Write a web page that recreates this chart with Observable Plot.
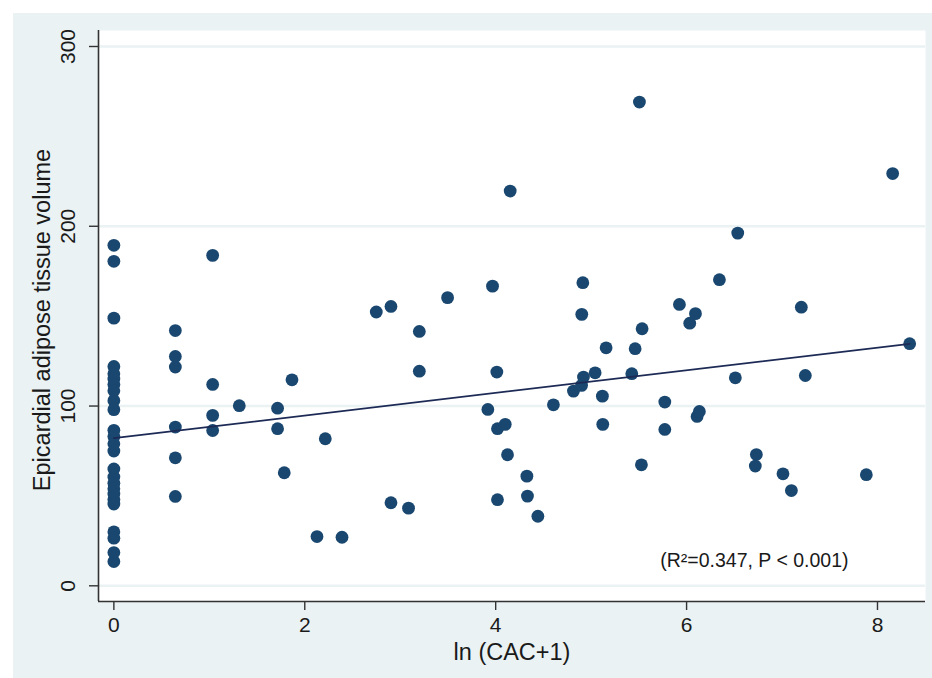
<!DOCTYPE html>
<html>
<head>
<meta charset="utf-8">
<script src="https://cdn.jsdelivr.net/npm/d3@7"></script>
<script src="https://cdn.jsdelivr.net/npm/@observablehq/plot@0.6"></script>
<style>
  html, body { margin: 0; padding: 0; background: #ffffff; }
  #wrap { position: relative; width: 932px; height: 678px; overflow: hidden; }
  #bg { position: absolute; left: 13px; top: 13px; right: 0; bottom: 0; background: #EAF2F3; }
  #chart { position: absolute; left: 0; top: 0; }
  #chart svg { background: transparent; }
</style>
</head>
<body>
<div id="wrap"><div id="bg"></div><div id="chart"></div></div>
<script>
// Data
const lnCAC = [
  0,0,0,0,0,0,0,0,0,0,0,0,0,0,0,0,0,0,0,0,0,0,0,0,0,
  0.644,0.644,0.644,0.644,0.644,0.644,
  1.035,1.035,1.035,1.035,
  1.314,1.715,1.715,1.785,1.866,
  2.128,2.215,2.39,2.749,2.903,2.903,3.087,3.2,3.2,3.496,
  3.918,3.967,4.012,4.019,4.019,4.1,4.124,4.152,4.327,4.333,4.442,
  4.605,4.815,4.9,4.92,4.913,4.902,5.042,5.118,5.122,5.157,
  5.426,5.461,5.506,5.527,5.534,5.772,5.772,5.925,6.033,6.093,6.11,6.134,
  6.344,6.511,6.536,6.72,6.731,7.01,7.098,7.202,7.244,7.883,8.159,8.337
];
const eatVolume = [
  189.4,180.5,148.9,122,118,115,112,108.5,103,98,86.5,83,79,75,65,60.5,57,54,51,48,45.5,30,26.5,18.5,13.5,
  142,127.6,121.7,88.3,71.2,49.7,
  183.8,112,94.8,86.4,
  100.2,98.8,87.4,62.9,114.6,
  27.4,81.8,27,152.3,155.4,46.2,43.2,141.5,119.4,160.3,
  98.1,166.7,118.9,87.4,47.9,89.8,72.9,219.6,61,49.9,38.7,
  100.7,108.3,111.5,116.1,168.6,151,118.5,105.5,89.8,132.4,
  118,131.9,269.1,67.3,143,102.2,87,156.5,146.1,151.4,94.2,97,
  170.3,115.7,196.2,66.6,73,62.3,53,155,117,61.8,229.3,134.7
];
const xTicks = [0, 2, 4, 6, 8];
const yTicks = [0, 100, 200, 300];
const fitIntercept = 82.1;
const fitSlope = 6.3;
const xTitle = "ln (CAC+1)";
const yTitle = "Epicardial adipose tissue volume";
const noteText = "(R\u00B2=0.347, P < 0.001)";

const points = lnCAC.map((x, i) => ({x, y: eatVolume[i]}));
const xMin = d3.min(lnCAC), xMax = d3.max(lnCAC);
const fit = [xMin, xMax].map(x => ({x, y: fitIntercept + fitSlope * x}));

const xDomain = [-0.161, 8.503];
const yDomain = [-8.73, 308.9];
const notePos = [{x: 6.71, y: 14.1}];

const FONT = "'Liberation Sans', Arial, Helvetica, sans-serif";
const TEXT = "#1a1a1a";
const AXIS = "#333333";

const chart = Plot.plot({
  width: 932,
  height: 678,
  marginLeft: 98,
  marginRight: 7,
  marginTop: 30,
  marginBottom: 77,
  style: {fontFamily: FONT, background: "transparent", color: TEXT},
  x: {domain: xDomain, axis: null, label: null},
  y: {domain: yDomain, axis: null, label: null},
  marks: [
    Plot.frame({fill: "#ffffff", stroke: null}),
    Plot.gridY(yTicks, {stroke: "#EAF2F3", strokeOpacity: 1, strokeWidth: 2.5}),
    Plot.dot(points, {x: "x", y: "y", r: 6.4, fill: "#1a476f", stroke: "none"}),
    Plot.line(fit, {x: "x", y: "y", stroke: "#1c2a55", strokeWidth: 1.8}),
    Plot.ruleX([xDomain[0]], {stroke: AXIS, strokeWidth: 1.6}),
    Plot.ruleY([yDomain[0]], {stroke: AXIS, strokeWidth: 1.6}),
    Plot.axisX({ticks: xTicks, label: null, tickSize: 9, tickPadding: 7, fontSize: 21, stroke: AXIS, strokeWidth: 1.4, fill: TEXT, tickFormat: d => String(d)}),
    Plot.axisY({ticks: yTicks, label: null, tickSize: 9, stroke: AXIS, strokeWidth: 1.4, tickFormat: () => ""}),
    Plot.text(yTicks, {y: d => d, frameAnchor: "left", dx: -30, rotate: -90, textAnchor: "middle", lineAnchor: "middle", text: d => String(d), fontSize: 21, fill: TEXT}),
    Plot.text([xTitle], {frameAnchor: "bottom", dy: 51, lineAnchor: "middle", text: d => d, fontSize: 23.5, fill: TEXT}),
    Plot.text([yTitle], {frameAnchor: "left", dx: -56, dy: 4, rotate: -90, textAnchor: "middle", lineAnchor: "middle", text: d => d, fontSize: 23.5, fill: TEXT}),
    Plot.text(notePos, {x: "x", y: "y", text: () => noteText, fontSize: 19.5, fill: TEXT, textAnchor: "middle", lineAnchor: "middle"})
  ]
});
document.getElementById("chart").appendChild(chart);
</script>
</body>
</html>
